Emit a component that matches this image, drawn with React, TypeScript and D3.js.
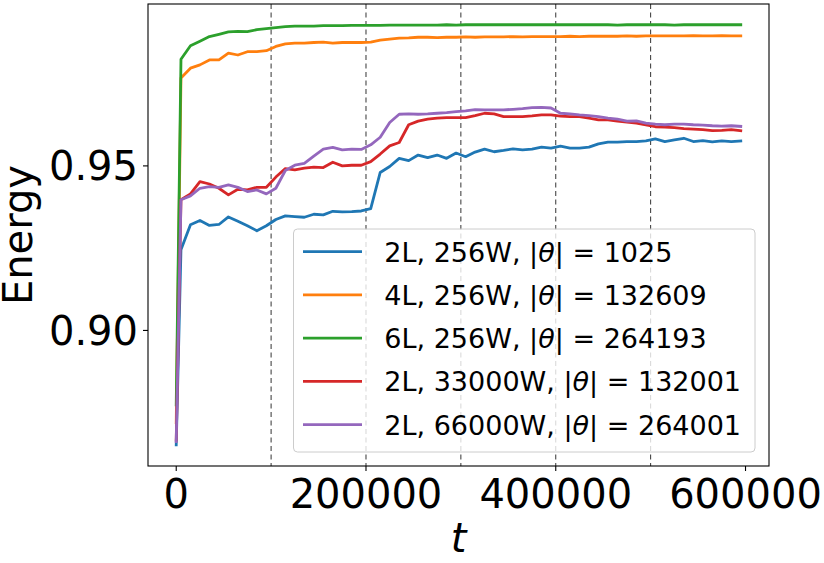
import React from "react";
import * as d3 from "d3";

const steps = [
  0, 5000, 15000, 25000, 35000, 45000, 55000, 65000, 75000, 85000, 95000,
  105000, 115000, 125000, 135000, 145000, 155000, 165000, 175000, 185000, 195000,
  205000, 215000, 225000, 235000, 245000, 255000, 265000, 275000, 285000, 295000,
  305000, 315000, 325000, 335000, 345000, 355000, 365000, 375000, 385000, 395000,
  405000, 415000, 425000, 435000, 445000, 455000, 465000, 475000, 485000, 495000,
  505000, 515000, 525000, 535000, 545000, 555000, 565000, 575000, 585000, 595000,
];

const energy2L256W = [
  0.8652, 0.9245, 0.9321, 0.9334, 0.9319, 0.9322, 0.9345, 0.9332, 0.9318, 0.9303, 0.9318,
  0.9337, 0.9348, 0.9346, 0.9344, 0.9353, 0.9351, 0.9362, 0.9360, 0.9361, 0.9363,
  0.9370, 0.9480, 0.9498, 0.9523, 0.9516, 0.9533, 0.9525, 0.9533, 0.9523, 0.9539,
  0.9528, 0.9542, 0.9551, 0.9543, 0.9547, 0.9552, 0.9549, 0.9551, 0.9557, 0.9554,
  0.9560, 0.9554, 0.9554, 0.9557, 0.9567, 0.9572, 0.9572, 0.9574, 0.9574, 0.9576,
  0.9582, 0.9574, 0.9579, 0.9584, 0.9574, 0.9577, 0.9573, 0.9576, 0.9574, 0.9576,
];

const energy4L256W = [
  0.8720, 0.9767, 0.9797, 0.9807, 0.9822, 0.9822, 0.9843, 0.9837, 0.9847, 0.9847, 0.9850,
  0.9863, 0.9871, 0.9873, 0.9873, 0.9875, 0.9876, 0.9873, 0.9875, 0.9875, 0.9875,
  0.9876, 0.9882, 0.9885, 0.9888, 0.9889, 0.9891, 0.9891, 0.9890, 0.9891, 0.9891,
  0.9892, 0.9891, 0.9892, 0.9892, 0.9892, 0.9893, 0.9892, 0.9893, 0.9893, 0.9893,
  0.9893, 0.9894, 0.9893, 0.9894, 0.9894, 0.9894, 0.9894, 0.9895, 0.9894, 0.9895,
  0.9895, 0.9895, 0.9895, 0.9895, 0.9896, 0.9895, 0.9895, 0.9896, 0.9895, 0.9895,
];

const energy6L256W = [
  0.8774, 0.9824, 0.9865, 0.9879, 0.9893, 0.9900, 0.9907, 0.9909, 0.9908, 0.9914, 0.9917,
  0.9920, 0.9923, 0.9925, 0.9925, 0.9925, 0.9926, 0.9926, 0.9926, 0.9927, 0.9927,
  0.9927, 0.9927, 0.9928, 0.9928, 0.9928, 0.9928, 0.9928, 0.9928, 0.9929, 0.9928,
  0.9929, 0.9929, 0.9929, 0.9929, 0.9929, 0.9929, 0.9929, 0.9929, 0.9929, 0.9929,
  0.9929, 0.9929, 0.9929, 0.9929, 0.9929, 0.9929, 0.9928, 0.9929, 0.9929, 0.9929,
  0.9929, 0.9929, 0.9928, 0.9929, 0.9929, 0.9929, 0.9929, 0.9929, 0.9929, 0.9929,
];

const energy2L33000W = [
  0.8667, 0.9397, 0.9415, 0.9452, 0.9445, 0.9432, 0.9412, 0.9429, 0.9427, 0.9435, 0.9435,
  0.9466, 0.9492, 0.9488, 0.9493, 0.9496, 0.9495, 0.9511, 0.9500, 0.9502, 0.9502,
  0.9513, 0.9536, 0.9561, 0.9571, 0.9625, 0.9636, 0.9642, 0.9645, 0.9647, 0.9647,
  0.9647, 0.9653, 0.9660, 0.9658, 0.9650, 0.9650, 0.9650, 0.9652, 0.9655, 0.9655,
  0.9651, 0.9650, 0.9650, 0.9645, 0.9640, 0.9640, 0.9636, 0.9633, 0.9630, 0.9625,
  0.9619, 0.9618, 0.9616, 0.9613, 0.9612, 0.9610, 0.9607, 0.9608, 0.9610, 0.9607,
];

const energy2L66000W = [
  0.8662, 0.9397, 0.9409, 0.9432, 0.9437, 0.9435, 0.9442, 0.9435, 0.9422, 0.9427, 0.9415,
  0.9432, 0.9486, 0.9502, 0.9508, 0.9530, 0.9551, 0.9556, 0.9549, 0.9551, 0.9550,
  0.9564, 0.9587, 0.9632, 0.9657, 0.9658, 0.9657, 0.9658, 0.9660, 0.9662, 0.9665,
  0.9667, 0.9671, 0.9670, 0.9670, 0.9670, 0.9672, 0.9674, 0.9677, 0.9678, 0.9676,
  0.9660, 0.9658, 0.9655, 0.9653, 0.9650, 0.9645, 0.9642, 0.9636, 0.9637, 0.9630,
  0.9627, 0.9625, 0.9627, 0.9627, 0.9625, 0.9624, 0.9622, 0.9621, 0.9622, 0.9620,
];

const seriesValues = [energy2L256W, energy4L256W, energy6L256W, energy2L33000W, energy2L66000W];
const seriesPrefixes = ["2L, 256W, ", "4L, 256W, ", "6L, 256W, ", "2L, 33000W, ", "2L, 66000W, "];
const paramCounts = ["1025", "132609", "264193", "132001", "264001"];
const seriesColors = ["#1f77b4", "#ff7f0e", "#2ca02c", "#d62728", "#9467bd"];

const xTicks = [0, 200000, 400000, 600000];
const xTickLabels = ["0", "200000", "400000", "600000"];
const yTicks = [0.9, 0.95];
const yTickLabels = ["0.90", "0.95"];
const phaseLines = [100000, 200000, 300000, 400000, 500000];

const FONT = "'DejaVu Sans', sans-serif";

export default function App() {
  const W = 824;
  const H = 563;
  const left = 148;
  const right = 769;
  const top = 4;
  const bottom = 466;

  const x = d3.scaleLinear().domain([-29750, 624750]).range([left, right]);
  const y = d3.scaleLinear().domain([0.8588, 0.9992]).range([bottom, top]);
  const line = d3
    .line<number>()
    .x((_, i) => x(steps[i]))
    .y((d) => y(d));

  const legX = 293.5;
  const legY = 229;
  const legW = 461.5;
  const legH = 223;
  const rowY0 = 251.7;
  const rowDy = 43.25;

  return (
    <svg
      width={W}
      height={H}
      viewBox={`0 0 ${W} ${H}`}
      style={{ position: "absolute", left: 0, top: 0, background: "#fff" }}
      fontFamily={FONT}
    >
      <rect x={0} y={0} width={W} height={H} fill="#fff" />
      <defs>
        <clipPath id="plotclip">
          <rect x={left} y={top} width={right - left} height={bottom - top} />
        </clipPath>
      </defs>

      {phaseLines.map((v) => (
        <line
          key={v}
          x1={x(v)}
          x2={x(v)}
          y1={top}
          y2={bottom}
          stroke="#333"
          strokeWidth={1}
          strokeDasharray="5,3.5"
        />
      ))}

      <g clipPath="url(#plotclip)">
        {seriesValues.map((vals, i) => (
          <path
            key={i}
            d={line(vals) || ""}
            fill="none"
            stroke={seriesColors[i]}
            strokeWidth={2.8}
            strokeLinejoin="round"
            strokeLinecap="square"
          />
        ))}
      </g>

      <rect
        x={left}
        y={top}
        width={right - left}
        height={bottom - top}
        fill="none"
        stroke="#000"
        strokeWidth={1.1}
      />

      {xTicks.map((v, i) => (
        <g key={v}>
          <line x1={x(v)} x2={x(v)} y1={bottom} y2={bottom + 5} stroke="#000" strokeWidth={1.1} />
          <text x={x(v)} y={507.5} fontSize={40} textAnchor="middle" fill="#000">
            {xTickLabels[i]}
          </text>
        </g>
      ))}

      {yTicks.map((v, i) => (
        <g key={v}>
          <line x1={left - 5} x2={left} y1={y(v)} y2={y(v)} stroke="#000" strokeWidth={1.1} />
          <text x={138} y={y(v) + 14.6} fontSize={40} textAnchor="end" fill="#000">
            {yTickLabels[i]}
          </text>
        </g>
      ))}

      <text
        transform={`translate(31.7, ${(top + bottom) / 2}) rotate(-90)`}
        fontSize={40}
        textAnchor="middle"
        fill="#000"
      >
        Energy
      </text>
      <text x={(left + right) / 2} y={551.5} fontSize={40} fontStyle="italic" textAnchor="middle" fill="#000">
        t
      </text>

      <rect
        x={legX}
        y={legY}
        width={legW}
        height={legH}
        rx={4}
        ry={4}
        fill="#fff"
        fillOpacity={0.8}
        stroke="#cccccc"
        strokeWidth={1}
      />
      {seriesPrefixes.map((p, i) => {
        const ry = rowY0 + i * rowDy;
        return (
          <g key={i}>
            <line x1={303} x2={362} y1={ry} y2={ry} stroke={seriesColors[i]} strokeWidth={2.8} />
            <text x={384.3} y={ry + 10} fontSize={27} fill="#000" xmlSpace="preserve">
              {p}|<tspan fontStyle="italic">θ</tspan>| = {paramCounts[i]}
            </text>
          </g>
        );
      })}
    </svg>
  );
}
